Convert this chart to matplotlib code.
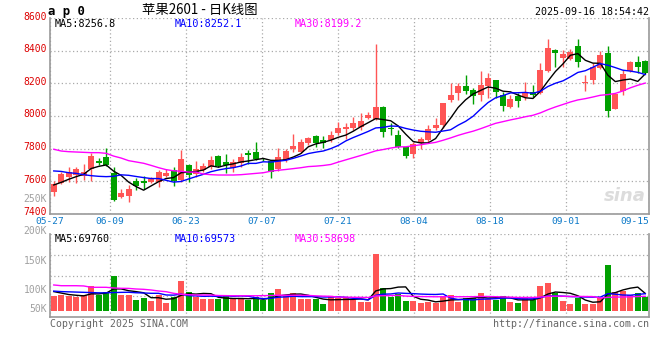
import numpy as np
import pandas as pd
import matplotlib
matplotlib.use("Agg")
import matplotlib.pyplot as plt
from matplotlib.transforms import ScaledTranslation

W, H = 660, 360

# trading days shown (Dragon Boat holiday 06-02 removed)
dates = [d.strftime("%m-%d") for d in pd.bdate_range("2025-05-27", "2025-09-16")
         if d.strftime("%m-%d") != "06-02"]

open_ = [7536, 7591, 7628, 7638, 7632, 7673, 7724, 7750, 7650, 7503,
         7507, 7601, 7599, 7597, 7593, 7632, 7669, 7607, 7699, 7644,
         7669, 7685, 7754, 7718, 7679, 7713, 7771, 7777, 7737, 7726,
         7673, 7730, 7796, 7779, 7836, 7877, 7853, 7853, 7897, 7918,
         7928, 7934, 7989, 7979, 8053, 7924, 7881, 7808, 7767, 7832,
         7853, 7926, 7945, 8098, 8139, 8184, 8159, 8128, 8184, 8220,
         8128, 8057, 8122, 8118, 8149, 8139, 8277, 8404, 8357, 8349,
         8429, 8200, 8220, 8292, 8384, 8043, 8155, 8276, 8329, 8337]
high = [7601, 7656, 7689, 7689, 7705, 7771, 7744, 7802, 7689, 7552,
        7577, 7618, 7632, 7626, 7669, 7673, 7689, 7791, 7705, 7724,
        7714, 7754, 7760, 7767, 7734, 7771, 7791, 7842, 7745, 7730,
        7802, 7796, 7889, 7857, 7873, 7883, 7877, 7910, 7965, 7955,
        7992, 8016, 8026, 8441, 8061, 7955, 7914, 7812, 7842, 7869,
        7945, 7986, 8081, 8200, 8200, 8251, 8170, 8276, 8261, 8220,
        8149, 8128, 8143, 8210, 8190, 8326, 8472, 8410, 8404, 8409,
        8472, 8251, 8323, 8400, 8431, 8135, 8282, 8339, 8368, 8343]
low = [7509, 7583, 7597, 7591, 7607, 7601, 7699, 7695, 7479, 7497,
       7475, 7544, 7554, 7589, 7566, 7624, 7572, 7597, 7597, 7628,
       7658, 7673, 7690, 7648, 7658, 7689, 7705, 7730, 7725, 7618,
       7664, 7720, 7781, 7771, 7822, 7812, 7802, 7842, 7883, 7857,
       7914, 7914, 7979, 7975, 7869, 7883, 7802, 7740, 7740, 7796,
       7832, 7914, 7924, 8087, 8098, 8135, 8073, 8094, 8108, 8108,
       8032, 8047, 8057, 8098, 8118, 8135, 8271, 8302, 8302, 8343,
       8302, 8153, 8196, 8286, 7995, 8043, 8128, 8271, 8261, 8255]
close = [7581, 7644, 7656, 7675, 7658, 7756, 7710, 7699, 7485, 7528,
         7552, 7571, 7589, 7616, 7658, 7648, 7601, 7736, 7638, 7675,
         7693, 7730, 7695, 7699, 7716, 7750, 7761, 7736, 7735, 7658,
         7747, 7785, 7816, 7840, 7867, 7836, 7832, 7883, 7928, 7934,
         7955, 7971, 8006, 8053, 7903, 7920, 7812, 7755, 7828, 7859,
         7920, 7945, 8081, 8128, 8184, 8155, 8124, 8190, 8234, 8149,
         8061, 8104, 8094, 8149, 8128, 8282, 8415, 8388, 8380, 8394,
         8333, 8210, 8302, 8374, 8032, 8135, 8257, 8333, 8302, 8261]
volume = [59900, 63900, 61200, 54400, 63900, 100700, 62600, 76200, 141500, 63900,
          63900, 43500, 53100, 40800, 63900, 32700, 54400, 121100, 76200, 54400,
          46300, 49000, 46300, 61200, 46300, 46300, 43500, 54400, 43500, 72100,
          87100, 63900, 70700, 46300, 46300, 46300, 27200, 55800, 50300, 50300,
          47600, 36700, 36700, 231300, 92500, 54400, 66700, 40800, 40800, 31300,
          36700, 31300, 55800, 63900, 36700, 50300, 50300, 72100, 49000, 43500,
          59900, 36700, 31300, 50300, 43500, 100700, 114300, 72100, 40800, 27200,
          50300, 27200, 27200, 50300, 186400, 77600, 81600, 63900, 72100, 57100]

# moving averages before enough days are on screen
ma5_head = [7577, 7593, 7612, 7628]
ma10_head = [7663, 7660, 7652, 7648, 7640, 7634, 7630, 7628, 7630]
ma30_head = [7796, 7785, 7781, 7779, 7777, 7775, 7775, 7771, 7754, 7742,
             7726, 7718, 7710, 7697, 7683, 7671, 7664, 7661, 7656, 7656,
             7644, 7640, 7638, 7638, 7638, 7640, 7644, 7648, 7652]
vma5_head = [78000, 72000, 66000, 63000]
vma10_head = [80000, 78000, 77000, 76000, 75000, 74000, 73000, 73000, 74000]
vma30_head = [105000, 102000, 102000, 102000, 101000, 95500, 95500, 95500, 92700, 91400,
              91000, 88600, 87300, 84500, 80400, 77600, 71000, 66900, 65300, 64000,
              64000, 64000, 62000, 61500, 61000, 61000, 61000, 61000, 61500]

price_ticks = [7400, 7600, 7800, 8000, 8200, 8400, 8600]
x_labels = ["05-27", "06-09", "06-23", "07-07", "07-21", "08-04", "08-18", "09-01", "09-15"]
vol_labels = ["250K", "200K", "150K", "100K", "50K"]
vol_label_y = [199, 231, 261, 290, 309]   # pixel rows of the labels
price_legend = ["MA5:8256.8", "MA10:8252.1", "MA30:8199.2"]
vol_legend = ["MA5:69760", "MA10:69573", "MA30:58698"]
legend_colors = ["black", "#0000ff", "#ff00ff"]

UP, DOWN = "#ff5555", "#00a000"
GRID = "#aaaaaa"
MONO = "DejaVu Sans Mono"


def mavg(values, n, head):
    m = pd.Series(values, dtype=float).rolling(n).mean().to_numpy()
    m[:n - 1] = head
    return m


def fx(px):
    return px / W


def fy(py):
    return 1 - py / H


o, h, l, c = map(np.array, (open_, high, low, close))
x = np.arange(len(dates))
colors = np.where(c > o, UP, DOWN)

fig = plt.figure(figsize=(W / 100, H / 100), dpi=100)
ax = fig.add_axes([fx(50), fy(213.85), fx(599), 195.8 / H])
ax2 = fig.add_axes([fx(50), fy(317), fx(599), 83 / H])

# grid positions along x (Sina spaces them evenly)
grid0, step = 7.54, 76.1 / 7.5
tick_x = [-0.5] + [grid0 + step * k for k in range(7)] + [79.5]

for a in (ax, ax2):
    a.set_xlim(-0.5, 79.5)
    a.set_xticks(tick_x)
    a.tick_params(length=0)
    for s in ("left", "bottom", "right"):
        a.spines[s].set_color("#999999")
        a.spines[s].set_linewidth(1.2)
    a.spines["top"].set_visible(False)
    a.grid(True, color=GRID, linestyle=(0, (1, 2)), linewidth=0.9)
    a.set_axisbelow(True)

# candles
body_lo = np.minimum(o, c)
body_h = np.maximum(np.abs(c - o), 1.5)
ax.vlines(x, l, h, colors=colors, linewidth=1, zorder=2)
ax.bar(x, body_h, bottom=body_lo, width=0.8, color=colors, linewidth=0, zorder=3)
ax.plot(x, mavg(c, 5, ma5_head), color="black", lw=1, zorder=4)
ax.plot(x, mavg(c, 10, ma10_head), color="#0000ff", lw=1, zorder=4)
ax.plot(x, mavg(c, 30, ma30_head), color="#ff00ff", lw=1, zorder=4)
ax.set_ylim(7400, 8600)
ax.set_yticks(price_ticks)
ax.set_yticklabels([str(t) for t in price_ticks], color="#dd0000",
                   family=MONO, fontsize=7)
ax.set_xticklabels(x_labels, color="#0a78c8", family=MONO, fontsize=6.8)
ax.tick_params(axis="x", pad=2.5)
ax.tick_params(axis="y", pad=2.5)
lift = ScaledTranslation(0, 2.5 / 100, fig.dpi_scale_trans)
for t in ax.get_yticklabels():
    t.set_transform(t.get_transform() + lift)
ax.get_xticklabels()[-1].set_horizontalalignment("right")

# sina watermark
ax.text(0.995, 0.09, "sina", transform=ax.transAxes, ha="right", va="center",
        fontsize=13, color="#dcdcdc", style="italic", weight="bold", zorder=1)

# volume
v = np.array(volume, dtype=float)
ax2.bar(x, v, width=0.8, color=colors, linewidth=0, zorder=3)
ax2.plot(x, mavg(v, 5, vma5_head), color="black", lw=1, zorder=4)
ax2.plot(x, mavg(v, 10, vma10_head), color="#0000ff", lw=1, zorder=4)
ax2.plot(x, mavg(v, 30, vma30_head), color="#ff00ff", lw=1, zorder=4)
vlo, vhi = -25700, 313000
ax2.set_ylim(vlo, vhi)
ax2.set_yticks(np.linspace(vlo, vhi, 5)[1:])
ax2.set_yticklabels([])
ax2.set_xticklabels([])

for lab, py in zip(vol_labels, vol_label_y):
    fig.text(fx(47), fy(py), lab, ha="right", va="center", color="#a0a0a0",
             family=MONO, fontsize=7)

for k, (lab, col) in enumerate(zip(price_legend, legend_colors)):
    fig.text(fx(55 + 120 * k), fy(24), lab, ha="left", va="center", color=col,
             family=MONO, fontsize=7.3)
for k, (lab, col) in enumerate(zip(vol_legend, legend_colors)):
    fig.text(fx(55 + 120 * k), fy(238.5), lab, ha="left", va="center", color=col,
             family=MONO, fontsize=7.3)

# header and footer
fig.text(fx(48), fy(11), "a p 0", ha="left", va="center", family=MONO,
         weight="bold", fontsize=8.8)
fig.text(fx(200), fy(10), "苹果2601 - 日K线图", ha="center", va="center",
         family=["Noto Sans CJK SC", "DejaVu Sans"], fontsize=9.6)
fig.text(fx(649), fy(12), "2025-09-16 18:54:42", ha="right", va="center",
         family=MONO, fontsize=7.2)
fig.text(fx(50), fy(324), "Copyright 2025 SINA.COM", ha="left", va="center",
         family=MONO, fontsize=7.1, color="#666666")
fig.text(fx(649), fy(324), "http://finance.sina.com.cn", ha="right", va="center",
         family=MONO, fontsize=7.2, color="#666666")

fig.savefig("out.png", dpi=100, facecolor="white")
